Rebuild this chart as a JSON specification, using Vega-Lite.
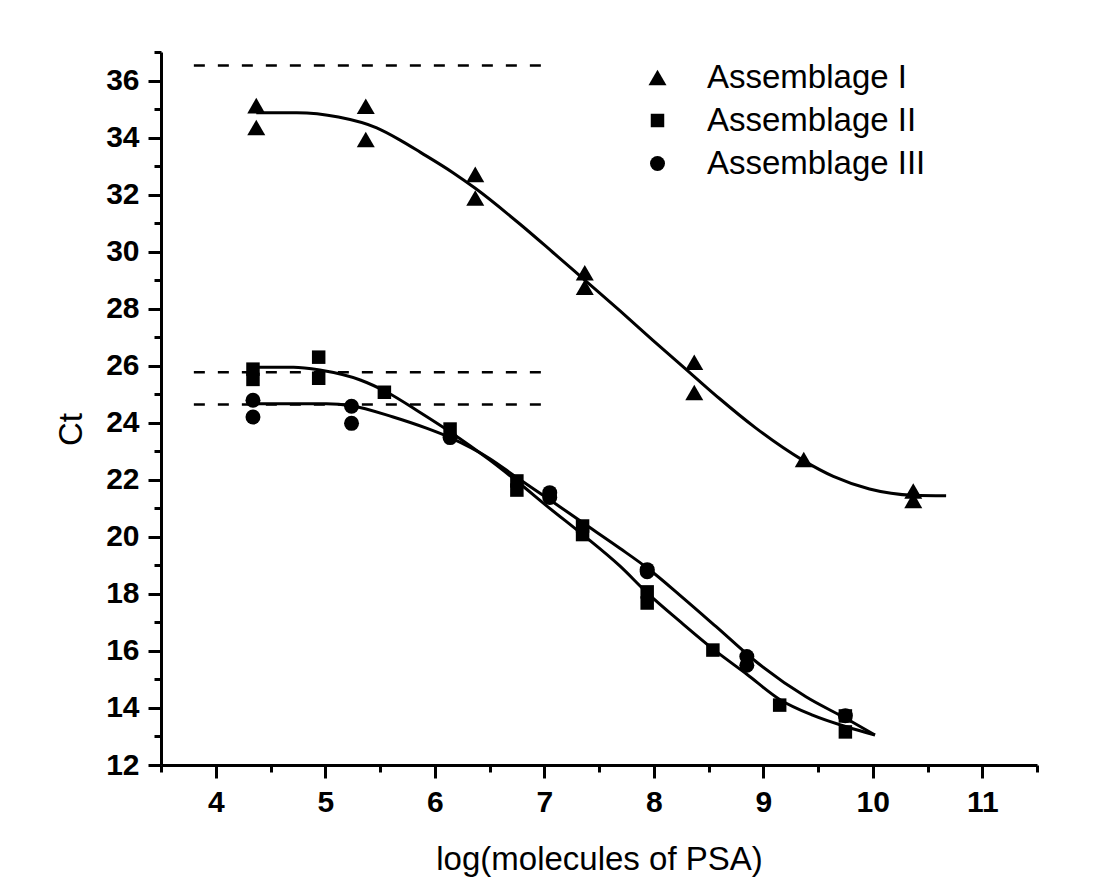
{
  "$schema": "https://vega.github.io/schema/vega-lite/v6.json",
  "width": 876,
  "height": 713,
  "autosize": {"type": "none"},
  "padding": {"left": 161, "top": 52, "right": 57, "bottom": 127},
  "background": "white",
  "config": {
    "view": {"stroke": null},
    "font": "Liberation Sans",
    "axis": {
      "domainColor": "black",
      "domainWidth": 3,
      "tickColor": "black",
      "tickWidth": 3,
      "labelColor": "black",
      "labelFont": "Liberation Sans",
      "labelFontWeight": "bold",
      "labelFontSize": 30,
      "labelPadding": 9,
      "titleColor": "black",
      "titleFont": "Liberation Sans",
      "titleFontWeight": "normal",
      "titleFontSize": 33,
      "grid": false
    },
    "legend": {
      "labelFont": "Liberation Sans",
      "labelFontSize": 33,
      "labelColor": "black",
      "labelLimit": 0
    }
  },
  "datasets": {
    "points": [
      {"series": "Assemblage I", "x": 4.37, "ct": 35.12},
      {"series": "Assemblage I", "x": 4.37, "ct": 34.35},
      {"series": "Assemblage I", "x": 5.37, "ct": 35.1},
      {"series": "Assemblage I", "x": 5.37, "ct": 33.93},
      {"series": "Assemblage I", "x": 6.37, "ct": 32.71},
      {"series": "Assemblage I", "x": 6.37, "ct": 31.88},
      {"series": "Assemblage I", "x": 7.37, "ct": 29.26},
      {"series": "Assemblage I", "x": 7.37, "ct": 28.75},
      {"series": "Assemblage I", "x": 8.37, "ct": 26.12},
      {"series": "Assemblage I", "x": 8.37, "ct": 25.06},
      {"series": "Assemblage I", "x": 9.37, "ct": 22.71},
      {"series": "Assemblage I", "x": 10.37, "ct": 21.61},
      {"series": "Assemblage I", "x": 10.37, "ct": 21.28},
      {"series": "Assemblage II", "x": 4.34, "ct": 25.88},
      {"series": "Assemblage II", "x": 4.34, "ct": 25.52},
      {"series": "Assemblage II", "x": 4.94, "ct": 26.3},
      {"series": "Assemblage II", "x": 4.94, "ct": 25.56},
      {"series": "Assemblage II", "x": 5.54, "ct": 25.07},
      {"series": "Assemblage II", "x": 6.14, "ct": 23.78},
      {"series": "Assemblage II", "x": 6.75, "ct": 21.96},
      {"series": "Assemblage II", "x": 6.75, "ct": 21.64},
      {"series": "Assemblage II", "x": 7.35, "ct": 20.38},
      {"series": "Assemblage II", "x": 7.35, "ct": 20.08},
      {"series": "Assemblage II", "x": 7.94, "ct": 18.07},
      {"series": "Assemblage II", "x": 7.94, "ct": 17.68},
      {"series": "Assemblage II", "x": 8.54, "ct": 16.03},
      {"series": "Assemblage II", "x": 9.15, "ct": 14.1},
      {"series": "Assemblage II", "x": 9.75, "ct": 13.72},
      {"series": "Assemblage II", "x": 9.75, "ct": 13.16},
      {"series": "Assemblage III", "x": 4.34, "ct": 24.79},
      {"series": "Assemblage III", "x": 4.34, "ct": 24.2},
      {"series": "Assemblage III", "x": 5.24, "ct": 24.58},
      {"series": "Assemblage III", "x": 5.24, "ct": 23.98},
      {"series": "Assemblage III", "x": 6.14, "ct": 23.48},
      {"series": "Assemblage III", "x": 7.05, "ct": 21.55},
      {"series": "Assemblage III", "x": 7.05, "ct": 21.38},
      {"series": "Assemblage III", "x": 7.94, "ct": 18.85},
      {"series": "Assemblage III", "x": 7.94, "ct": 18.78},
      {"series": "Assemblage III", "x": 8.85, "ct": 15.8},
      {"series": "Assemblage III", "x": 8.85, "ct": 15.5},
      {"series": "Assemblage III", "x": 9.75, "ct": 13.73}
    ],
    "fit": [
      {"series": "Assemblage I", "x": 4.37, "ct": 34.87},
      {"series": "Assemblage I", "x": 4.74, "ct": 34.87},
      {"series": "Assemblage I", "x": 5.12, "ct": 34.72},
      {"series": "Assemblage I", "x": 5.47, "ct": 34.34},
      {"series": "Assemblage I", "x": 5.68, "ct": 33.92},
      {"series": "Assemblage I", "x": 5.87, "ct": 33.48},
      {"series": "Assemblage I", "x": 6.17, "ct": 32.76},
      {"series": "Assemblage I", "x": 6.37, "ct": 32.22},
      {"series": "Assemblage I", "x": 6.78, "ct": 30.96},
      {"series": "Assemblage I", "x": 7.08, "ct": 29.97},
      {"series": "Assemblage I", "x": 7.37, "ct": 29.0},
      {"series": "Assemblage I", "x": 7.69, "ct": 27.93},
      {"series": "Assemblage I", "x": 7.99, "ct": 26.9},
      {"series": "Assemblage I", "x": 8.37, "ct": 25.62},
      {"series": "Assemblage I", "x": 8.6, "ct": 24.85},
      {"series": "Assemblage I", "x": 8.93, "ct": 23.82},
      {"series": "Assemblage I", "x": 9.36, "ct": 22.69},
      {"series": "Assemblage I", "x": 9.64, "ct": 22.12},
      {"series": "Assemblage I", "x": 9.97, "ct": 21.68},
      {"series": "Assemblage I", "x": 10.37, "ct": 21.46},
      {"series": "Assemblage I", "x": 10.67, "ct": 21.44},
      {"series": "Assemblage II", "x": 4.34, "ct": 25.95},
      {"series": "Assemblage II", "x": 4.71, "ct": 25.95},
      {"series": "Assemblage II", "x": 4.95, "ct": 25.85},
      {"series": "Assemblage II", "x": 5.32, "ct": 25.5},
      {"series": "Assemblage II", "x": 5.56, "ct": 25.08},
      {"series": "Assemblage II", "x": 5.87, "ct": 24.35},
      {"series": "Assemblage II", "x": 6.14, "ct": 23.68},
      {"series": "Assemblage II", "x": 6.5, "ct": 22.7},
      {"series": "Assemblage II", "x": 6.75, "ct": 21.95},
      {"series": "Assemblage II", "x": 7.05, "ct": 21.0},
      {"series": "Assemblage II", "x": 7.35, "ct": 20.08},
      {"series": "Assemblage II", "x": 7.69, "ct": 18.98},
      {"series": "Assemblage II", "x": 7.95, "ct": 18.0},
      {"series": "Assemblage II", "x": 8.25, "ct": 17.0},
      {"series": "Assemblage II", "x": 8.54, "ct": 16.07},
      {"series": "Assemblage II", "x": 8.85, "ct": 15.18},
      {"series": "Assemblage II", "x": 9.15, "ct": 14.3},
      {"series": "Assemblage II", "x": 9.45, "ct": 13.75},
      {"series": "Assemblage II", "x": 9.76, "ct": 13.34},
      {"series": "Assemblage II", "x": 10.02, "ct": 13.05},
      {"series": "Assemblage III", "x": 4.34, "ct": 24.67},
      {"series": "Assemblage III", "x": 5.01, "ct": 24.67},
      {"series": "Assemblage III", "x": 5.24, "ct": 24.6},
      {"series": "Assemblage III", "x": 5.62, "ct": 24.2},
      {"series": "Assemblage III", "x": 5.93, "ct": 23.8},
      {"series": "Assemblage III", "x": 6.14, "ct": 23.48},
      {"series": "Assemblage III", "x": 6.5, "ct": 22.75},
      {"series": "Assemblage III", "x": 6.75, "ct": 22.08},
      {"series": "Assemblage III", "x": 7.05, "ct": 21.3},
      {"series": "Assemblage III", "x": 7.35, "ct": 20.5},
      {"series": "Assemblage III", "x": 7.69, "ct": 19.6},
      {"series": "Assemblage III", "x": 7.95, "ct": 18.88},
      {"series": "Assemblage III", "x": 8.24, "ct": 17.95},
      {"series": "Assemblage III", "x": 8.57, "ct": 16.85},
      {"series": "Assemblage III", "x": 8.91, "ct": 15.7},
      {"series": "Assemblage III", "x": 9.39, "ct": 14.39},
      {"series": "Assemblage III", "x": 9.76, "ct": 13.62},
      {"series": "Assemblage III", "x": 10.02, "ct": 13.05}
    ],
    "reference": [
      {"level": "Assemblage I", "x": 3.8, "ct": 36.53},
      {"level": "Assemblage I", "x": 7.0, "ct": 36.53},
      {"level": "Assemblage II", "x": 3.8, "ct": 25.77},
      {"level": "Assemblage II", "x": 7.0, "ct": 25.77},
      {"level": "Assemblage III", "x": 3.8, "ct": 24.64},
      {"level": "Assemblage III", "x": 7.0, "ct": 24.64}
    ]
  },
  "encoding": {
    "x": {
      "field": "x",
      "type": "quantitative",
      "scale": {"domain": [3.5, 11.5], "nice": false, "zero": false},
      "axis": {
        "title": "log(molecules of PSA)",
        "values": [3.5, 4, 4.5, 5, 5.5, 6, 6.5, 7, 7.5, 8, 8.5, 9, 9.5, 10, 10.5, 11, 11.5],
        "labelExpr": "datum.value % 1 === 0 ? format(datum.value, 'd') : ''",
        "tickSize": {"condition": {"test": "datum.value % 1 === 0", "value": 13}, "value": 7},
        "titlePadding": 26
      }
    },
    "y": {
      "field": "ct",
      "type": "quantitative",
      "scale": {"domain": [12, 37], "nice": false, "zero": false},
      "axis": {
        "title": "Ct",
        "values": [12, 13, 14, 15, 16, 17, 18, 19, 20, 21, 22, 23, 24, 25, 26, 27, 28, 29, 30, 31, 32, 33, 34, 35, 36, 37],
        "labelExpr": "datum.value % 2 === 0 ? datum.label : ''",
        "tickSize": {"condition": {"test": "datum.value % 2 === 0", "value": 13}, "value": 7},
        "titlePadding": 17,
        "titleY": 377
      }
    }
  },
  "layer": [
    {
      "data": {"name": "reference"},
      "mark": {"type": "line", "strokeDash": [11, 13], "strokeWidth": 2.5, "color": "black"},
      "encoding": {"detail": {"field": "level"}}
    },
    {
      "data": {"name": "fit"},
      "mark": {"type": "line", "interpolate": "monotone", "strokeWidth": 3, "color": "black"},
      "encoding": {"detail": {"field": "series"}}
    },
    {
      "data": {"name": "points"},
      "mark": {"type": "point", "filled": true, "opacity": 1, "color": "black"},
      "encoding": {
        "shape": {
          "field": "series",
          "type": "nominal",
          "scale": {"domain": ["Assemblage I", "Assemblage II", "Assemblage III"], "range": ["triangle-up", "square", "circle"]},
          "legend": {
            "title": null,
            "orient": "none",
            "legendX": 480,
            "legendY": 9,
            "padding": 0,
            "labelOffset": 33,
            "rowPadding": 9,
            "symbolStrokeWidth": 0,
            "symbolFillColor": "black"
          }
        },
        "size": {
          "field": "series",
          "type": "nominal",
          "scale": {"type": "ordinal", "domain": ["Assemblage I", "Assemblage II", "Assemblage III"], "range": [324, 182, 225]}
        }
      }
    }
  ]
}
